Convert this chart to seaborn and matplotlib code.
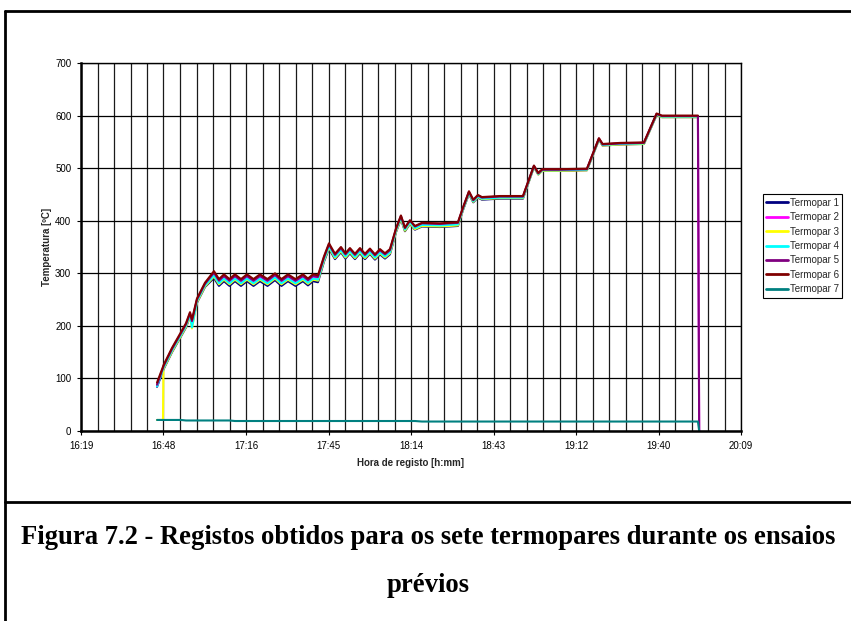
import numpy as np
import pandas as pd
import matplotlib
matplotlib.use("Agg")
import matplotlib.pyplot as plt
from matplotlib.ticker import MultipleLocator, FixedLocator, FixedFormatter
from matplotlib.lines import Line2D
import seaborn as sns

# Logger sample times (shared by all thermocouples)
times = [
    "16:45:44", "16:47:49", "16:47:59", "16:50:58", "16:54:06", "16:55:51", "16:57:15", "16:57:56", "16:59:41", "17:02:29",
    "17:05:37", "17:07:22", "17:09:07", "17:11:02", "17:12:57", "17:15:03", "17:17:08", "17:19:25", "17:21:41", "17:24:18",
    "17:26:55", "17:29:11", "17:31:27", "17:34:04", "17:36:41", "17:38:26", "17:40:11", "17:41:55",
    "17:44:01", "17:45:46", "17:47:52", "17:49:57", "17:51:31", "17:53:05", "17:54:50", "17:56:35", "17:58:20", "18:00:04",
    "18:01:49", "18:03:34", "18:05:19", "18:07:03",
    "18:09:09", "18:10:53", "18:12:17", "18:14:02", "18:15:47", "18:18:13", "18:24:30", "18:30:47",
    "18:32:32", "18:34:38", "18:36:08", "18:37:46", "18:39:10", "18:45:27", "18:53:29",
    "18:57:19", "18:58:49", "19:00:13", "19:06:23", "19:15:49", "19:20:00", "19:21:17", "19:27:20", "19:35:43",
    "19:40:08", "19:41:59", "19:48:17", "19:54:34", "19:55:00",
]

nan = np.nan
termopar_1 = [84, 114, 117, 150, 180, 197, 218, 204, 244, 274,
              291, 276, 285, 276, 285, 276, 285, 276, 285, 276, 287, 276, 285, 276, 285, 277, 285, 283,
              322, 347, 327, 340, 328, 338, 327, 338, 327, 337, 326, 336, 328, 336,
              378, 403, 380, 394, 383, 389, 388, 390,
              420, 451, 435, 444, 440, 442, 442,
              502, 488, 495, 495, 496, 554, 543, 545, 546, 601, 597, 597, 597, nan]
termopar_2 = [86, 118, 121, 154, 184, 201, 222, 207, 248, 278,
              299, 284, 293, 284, 293, 284, 293, 284, 293, 284, 295, 284, 293, 284, 293, 285, 293, 291,
              328, 353, 333, 346, 334, 344, 333, 344, 333, 343, 332, 342, 334, 342,
              382, 407, 384, 398, 387, 393, 392, 394,
              423, 454, 438, 447, 443, 445, 445,
              504, 490, 497, 497, 498, 556, 545, 547, 548, 603, 599, 599, 599, 0]
termopar_3 = [21, 21, 118, 151, 181, 198, 219, 195, 245, 275,
              294, 279, 288, 279, 288, 279, 288, 279, 288, 279, 290, 279, 288, 279, 288, 280, 288, 286,
              324, 349, 329, 342, 330, 340, 329, 340, 329, 339, 328, 338, 330, 338,
              379, 404, 381, 395, 384, 390, 389, 391,
              421, 452, 436, 445, 441, 443, 443,
              502, 488, 495, 495, 496, 554, 543, 545, 546, 601, 597, 597, 597, nan]
termopar_4 = [85, 117, 120, 153, 183, 200, 221, 197, 247, 277,
              296, 281, 290, 281, 290, 281, 290, 281, 290, 281, 292, 281, 290, 281, 290, 282, 290, 288,
              326, 351, 331, 344, 332, 342, 331, 342, 331, 341, 330, 340, 332, 340,
              381, 406, 383, 397, 386, 392, 391, 393,
              422, 453, 437, 446, 442, 444, 444,
              503, 489, 496, 496, 497, 555, 544, 546, 547, 602, 598, 598, 598, nan]
termopar_5 = [88, 120, 123, 156, 186, 203, 224, 209, 250, 280,
              301, 286, 295, 286, 295, 286, 295, 286, 295, 286, 297, 286, 295, 286, 295, 287, 295, 293,
              330, 355, 335, 348, 336, 346, 335, 346, 335, 345, 334, 344, 336, 344,
              384, 409, 386, 400, 389, 395, 394, 396,
              424, 455, 439, 448, 444, 446, 446,
              504, 490, 497, 497, 498, 556, 545, 547, 548, 603, 599, 599, 599, 0]
termopar_6 = [92, 122, 125, 158, 188, 205, 226, 212, 252, 282,
              304, 289, 298, 289, 298, 289, 298, 289, 298, 289, 300, 289, 298, 289, 298, 290, 298, 296,
              332, 357, 337, 350, 338, 348, 337, 348, 337, 347, 336, 346, 338, 346,
              385, 410, 387, 401, 390, 396, 395, 397,
              425, 456, 440, 449, 445, 447, 447,
              505, 491, 498, 498, 499, 557, 546, 548, 549, 604, 600, 600, 600, nan]
termopar_7 = [21, 21, 21, 21, 21, 20, 20, 20, 20, 20,
              20, 20, 20, 20, 19, 19, 19, 19, 19, 19, 19, 19, 19, 19, 19, 19, 19, 19,
              19, 19, 19, 19, 19, 19, 19, 19, 19, 19, 19, 19, 19, 19,
              19, 19, 19, 19, 19, 18, 18, 18,
              18, 18, 18, 18, 18, 18, 18,
              18, 18, 18, 18, 18, 18, 18, 18, 18, 18, 18, 18, 18, 0]

series_names = [f"Termopar {i}" for i in range(1, 8)]
series_values = [termopar_1, termopar_2, termopar_3, termopar_4, termopar_5, termopar_6, termopar_7]
series_colors = ["#000080", "#FF00FF", "#FFFF00", "#00FFFF", "#800080", "#800000", "#008080"]

x_tick_pos = [0.68, 0.70, 0.72, 0.74, 0.76, 0.78, 0.80, 0.82, 0.84]
x_tick_labels = ["16:19", "16:48", "17:16", "17:45", "18:14", "18:43", "19:12", "19:40", "20:09"]


def day_fraction(hms):
    h, m, s = (int(v) for v in hms.split(":"))
    return h / 24 + m / 1440 + s / 86400


frames = []
for name, vals in zip(series_names, series_values):
    frames.append(pd.DataFrame({"Hora": [day_fraction(t) for t in times],
                                "Temperatura": vals, "Termopar": name}))
data = pd.concat(frames, ignore_index=True)

sns.set_style("white")
plt.rcParams["font.family"] = ["Liberation Sans", "DejaVu Sans"]

fig = plt.figure(figsize=(8.51, 6.21), dpi=100)
ax = fig.add_axes([81 / 851, 1 - 431 / 621, (741 - 81) / 851, (431 - 63) / 621])

for name, color in zip(series_names, series_colors):
    sub = data[data["Termopar"] == name].dropna()
    sns.lineplot(data=sub, x="Hora", y="Temperatura", ax=ax, color=color,
                 linewidth=1.5, label=name, estimator=None, sort=False)

ax.set_xlim(0.68, 0.84)
ax.set_ylim(0, 700)
ax.xaxis.set_major_locator(FixedLocator(x_tick_pos))
ax.xaxis.set_major_formatter(FixedFormatter(x_tick_labels))
ax.xaxis.set_minor_locator(MultipleLocator(0.004))
ax.yaxis.set_major_locator(MultipleLocator(100))

ax.grid(True, which="both", axis="x", color="#1a1a1a", linewidth=0.9)
ax.grid(True, which="major", axis="y", color="black", linewidth=0.9)
ax.set_axisbelow(True)

for side in ["left", "bottom", "top", "right"]:
    ax.spines[side].set_visible(True)
    ax.spines[side].set_color("black")
    ax.spines[side].set_linewidth(1.0)
ax.spines["left"].set_linewidth(1.8)
ax.spines["bottom"].set_linewidth(1.8)

ax.tick_params(axis="both", which="major", direction="out", length=3, width=0.8,
               labelsize=7, colors="black", pad=4)
ax.tick_params(axis="both", which="minor", length=0)
ax.tick_params(axis="x", bottom=True)
ax.tick_params(axis="y", left=True)

ax.set_xlabel("Hora de registo [h:mm]", fontsize=7, fontweight="bold", labelpad=5)
ax.set_ylabel("Temperatura [ºC]", fontsize=7, fontweight="bold", labelpad=2)

leg = ax.legend(loc="center left", bbox_to_anchor=(763 / 851, 1 - 246 / 621),
                bbox_transform=fig.transFigure, borderaxespad=0, fontsize=7,
                frameon=True, fancybox=False, framealpha=1, edgecolor="black",
                handlelength=2.2, handletextpad=0.2, labelspacing=0.45,
                borderpad=0.35)
leg.get_frame().set_linewidth(0.8)
for line in leg.get_lines():
    line.set_linewidth(2.0)

# Surrounding frame and caption separator
frame_kw = dict(color="black", linewidth=2.0, transform=fig.transFigure)
fig.add_artist(Line2D([5 / 851, 1.0], [1 - 11 / 621, 1 - 11 / 621], **frame_kw))
fig.add_artist(Line2D([5 / 851, 5 / 851], [0, 1 - 11 / 621], **frame_kw))
fig.add_artist(Line2D([5 / 851, 1.0], [1 - 502 / 621, 1 - 502 / 621], **frame_kw))

caption_kw = dict(ha="center", va="center", fontsize=19.2, fontweight="bold",
                  color="black", family=["Liberation Serif", "DejaVu Serif"])
fig.text(428 / 851, 1 - 537 / 621,
         "Figura 7.2 - Registos obtidos para os sete termopares durante os ensaios", **caption_kw)
fig.text(428 / 851, 1 - 585 / 621, "prévios", **caption_kw)

fig.savefig("out.png", dpi=100)
